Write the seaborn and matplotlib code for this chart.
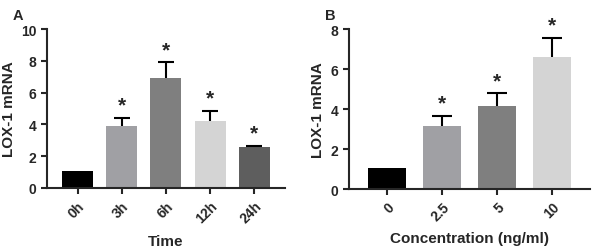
import numpy as np
import matplotlib
matplotlib.use("Agg")
import matplotlib.pyplot as plt
import seaborn as sns

# Panel A: LOX-1 mRNA over time
time_labels = ["0h", "3h", "6h", "12h", "24h"]
time_means = [1.05, 3.9, 6.95, 4.24, 2.6]
time_sems = [0.0, 0.53, 0.97, 0.63, 0.06]
time_colors = ["#000000", "#a0a0a4", "#7f7f7f", "#d4d4d4", "#5e5e5e"]
time_stars = ["", "*", "*", "*", "*"]

# Panel B: LOX-1 mRNA by concentration
conc_labels = ["0", "2.5", "5", "10"]
conc_means = [1.07, 3.15, 4.13, 6.58]
conc_sems = [0.0, 0.51, 0.67, 1.0]
conc_colors = ["#000000", "#a0a0a4", "#7f7f7f", "#d4d4d4"]
conc_stars = ["", "*", "*", "*"]

sns.set_style("ticks")
plt.rcParams["font.family"] = ["Liberation Sans", "DejaVu Sans"]
plt.rcParams["font.weight"] = "bold"
plt.rcParams["axes.labelweight"] = "bold"

fig = plt.figure(figsize=(5.96, 2.53), dpi=100)
ax_a = fig.add_axes([0.0789, 0.253, 0.399, 0.628])
ax_b = fig.add_axes([0.5856, 0.249, 0.404, 0.632])


def draw_panel(ax, labels, means, sems, colors, stars, ymax, xlabel):
    sns.barplot(x=labels, y=means, hue=labels, order=labels, hue_order=labels,
                palette=colors, saturation=1, legend=False, width=0.7,
                errorbar=None, linewidth=0, ax=ax)
    x = np.arange(len(labels))
    m = np.array(means)
    s = np.array(sems)
    top = m + s
    # upper-only error bars
    ax.vlines(x[s > 0], m[s > 0], top[s > 0], color="black", lw=1.5, zorder=3)
    ax.hlines(top[s > 0], x[s > 0] - 0.18, x[s > 0] + 0.18, color="black", lw=1.5, zorder=3)
    for i, st in enumerate(stars):
        if st:
            ax.annotate(st, (x[i], top[i]), xytext=(0, 9), textcoords="offset points",
                        ha="center", va="center", fontsize=15, fontweight="bold")
    ax.set_ylim(0, ymax)
    ax.set_yticks(np.arange(0, ymax + 1, 2))
    ax.set_xlim(-0.69, len(labels) - 0.31)
    ax.set_ylabel("LOX-1 mRNA", fontsize=11, fontweight="bold", labelpad=4)
    ax.set_xlabel(xlabel, fontsize=11, fontweight="bold", labelpad=6)
    ax.tick_params(axis="both", width=1.5, length=4, labelsize=10)
    for lab in ax.get_xticklabels():
        lab.set_rotation(45)
        lab.set_ha("right")
        lab.set_va("top")
        lab.set_rotation_mode("anchor")
        lab.set_fontweight("bold")
    for lab in ax.get_yticklabels():
        lab.set_fontweight("bold")
    sns.despine(ax=ax)
    for sp in ["left", "bottom"]:
        ax.spines[sp].set_linewidth(1.5)


draw_panel(ax_a, time_labels, time_means, time_sems, time_colors, time_stars, 10, "Time")
draw_panel(ax_b, conc_labels, conc_means, conc_sems, conc_colors, conc_stars, 8, "Concentration (ng/ml)")

fig.text(0.022, 0.965, "A", fontsize=10.5, fontweight="bold", va="top")
fig.text(0.545, 0.965, "B", fontsize=10.5, fontweight="bold", va="top")

fig.savefig("out.png", dpi=100)
